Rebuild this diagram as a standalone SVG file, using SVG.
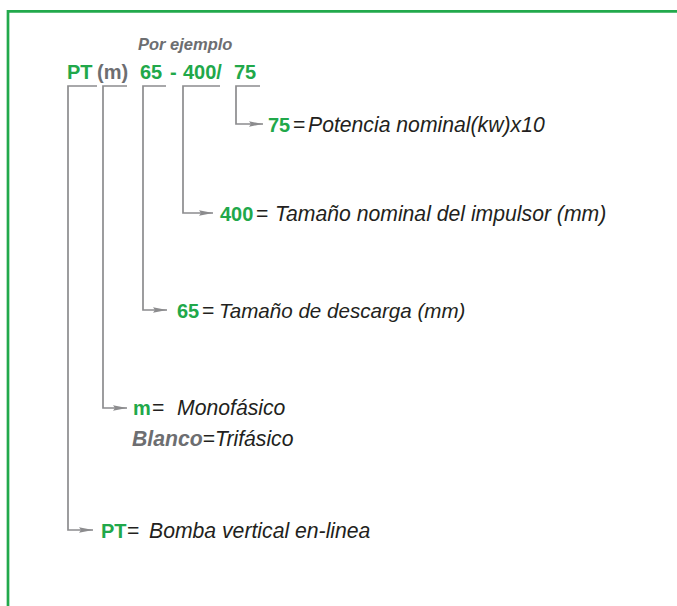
<svg xmlns="http://www.w3.org/2000/svg" width="677" height="606" viewBox="0 0 677 606">
<defs>
<style>
text{font-family:"Liberation Sans",Arial,sans-serif;font-size:21.2px;}
.g{fill:#21a84a;font-weight:bold;font-style:normal;font-size:20px;}
.gr{fill:#6d6e71;font-weight:bold;font-size:20px;}
.gri{fill:#6d6e71;font-weight:bold;font-style:italic;}
.d{fill:#231f20;font-style:italic;}
.eq{fill:#231f20;font-style:normal;}
.c{fill:none;stroke:#8c8c8e;stroke-width:1.7;}
</style>
<marker id="ah" markerUnits="userSpaceOnUse" markerWidth="14" markerHeight="6" viewBox="0 0 14 6" refX="14" refY="3" orient="auto">
<path d="M0,0.3 L14,3 L0,5.7 L2,3 z" fill="#8c8c8e"/>
</marker>
</defs>
<rect width="677" height="606" fill="#ffffff"/>
<path d="M8,606 V11.3 H677" fill="none" stroke="#22a94c" stroke-width="2.7"/>
<g id="header">
<text x="138" y="50" class="gri" style="font-size:16.5px">Por ejemplo</text>
<text y="79"><tspan x="67" class="g">PT</tspan><tspan x="97" class="gr">(m)</tspan><tspan x="140" class="g">65</tspan><tspan x="170" class="g">-</tspan><tspan x="183" class="g">400/</tspan><tspan x="234" class="g">75</tspan></text>
</g>
<g id="connectors">
<path class="c" d="M260,86 H236 V124 H263" marker-end="url(#ah)"/>
<path class="c" d="M220,86 H183 V213 H213" marker-end="url(#ah)"/>
<path class="c" d="M166,86 H143 V310 H167" marker-end="url(#ah)"/>
<path class="c" d="M127,86 H103 V408 H127" marker-end="url(#ah)"/>
<path class="c" d="M97,86 H68 V530 H93" marker-end="url(#ah)"/>
</g>
<g id="node-75">
<text y="132"><tspan x="268" class="g">75</tspan><tspan x="293" class="eq">=</tspan><tspan x="308" class="d">Potencia nominal(kw)x10</tspan></text>
</g>
<g id="node-400">
<text y="221"><tspan x="220" class="g">400</tspan><tspan x="256" class="eq">= </tspan><tspan x="275" class="d">Tamaño nominal del impulsor (mm)</tspan></text>
</g>
<g id="node-65">
<text y="318"><tspan x="177" class="g">65</tspan><tspan x="202" class="eq">= </tspan><tspan x="219" class="d" style="font-size:20.6px">Tamaño de descarga (mm)</tspan></text>
</g>
<g id="node-m">
<text y="415"><tspan x="133" class="g">m</tspan><tspan x="152" class="eq">= </tspan><tspan x="177" class="d">Monofásico</tspan></text>
<text y="446"><tspan x="132" class="gri">Blanco</tspan><tspan class="eq">=</tspan><tspan class="d">Trifásico</tspan></text>
</g>
<g id="node-PT">
<text y="538"><tspan x="101" class="g">PT</tspan><tspan x="127" class="eq">= </tspan><tspan x="149" class="d">Bomba vertical en-linea</tspan></text>
</g>
</svg>
